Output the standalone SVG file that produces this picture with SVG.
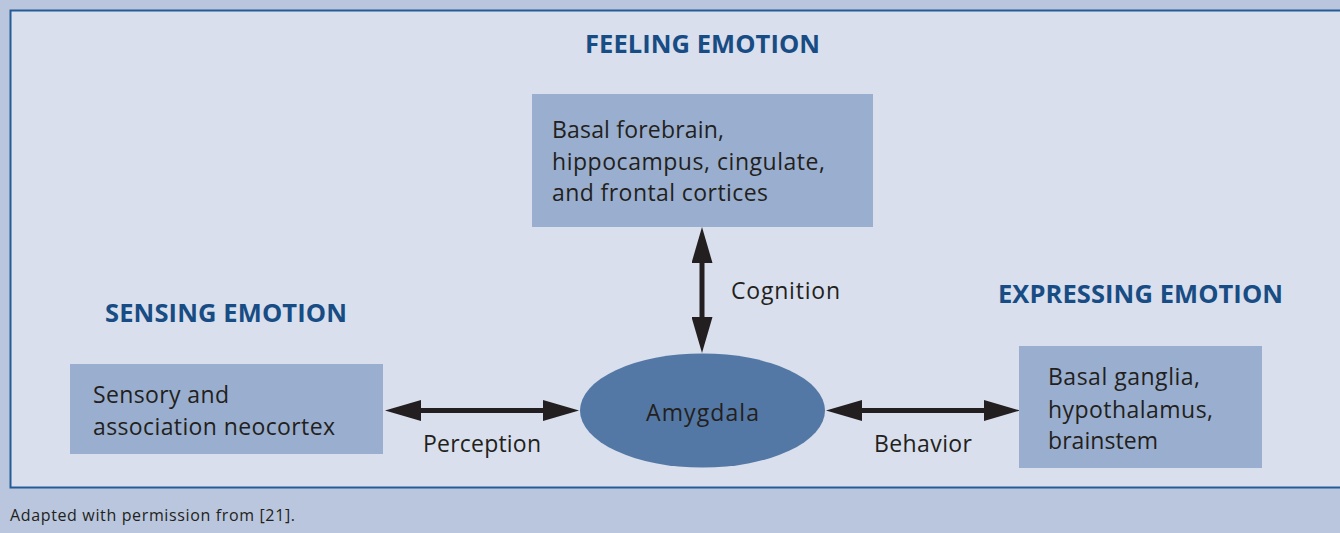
<svg xmlns="http://www.w3.org/2000/svg" width="1340" height="533" viewBox="0 0 1340 533">
<defs>
<style>
.title{font-family:"Open Sans","Liberation Sans",sans-serif;font-weight:bold;font-size:25.5px;fill:#184c84}
.body{font-family:"Open Sans","Liberation Sans",sans-serif;font-size:23px;fill:#231f20}
.box{fill:#9aafcf}
.conn{stroke:#231f20;stroke-width:5;fill:none;marker-start:url(#ah);marker-end:url(#ah)}
</style>
<marker id="ah" markerUnits="userSpaceOnUse" viewBox="0 0 36 21" refX="16" refY="10.5" markerWidth="36" markerHeight="21" orient="auto-start-reverse">
<path d="M0,0 L36,10.5 L0,21 Z" fill="#231f20"/>
</marker>
</defs>
<rect x="0" y="0" width="1340" height="533" fill="#b9c6dd"/>
<rect x="10.5" y="10.5" width="1345" height="477" fill="#d9dfec" stroke="#245c96" stroke-width="2"/>
<text x="10" y="521" font-family="'Open Sans','Liberation Sans',sans-serif" font-size="16" fill="#231f20" textLength="285">Adapted with permission from [21].</text>

<g id="connectors">
<line class="conn" x1="405" y1="410.5" x2="559" y2="410.5"/>
<line class="conn" x1="846" y1="410.5" x2="1000" y2="410.5"/>
<line class="conn" x1="702" y1="247" x2="702" y2="333"/>
<text class="body" x="423" y="452" textLength="118">Perception</text>
<text class="body" x="874" y="452" textLength="98">Behavior</text>
<text class="body" x="731" y="299" textLength="109">Cognition</text>
</g>

<g id="feeling">
<text class="title" x="585" y="52.5" textLength="235">FEELING EMOTION</text>
<rect class="box" x="532" y="94" width="341" height="133"/>
<text class="body" x="552" y="138" textLength="172">Basal forebrain,</text>
<text class="body" x="552" y="169.5" textLength="273">hippocampus, cingulate,</text>
<text class="body" x="552" y="200.5" textLength="216">and frontal cortices</text>
</g>

<g id="sensing">
<text class="title" x="105" y="321.5" textLength="242">SENSING EMOTION</text>
<rect class="box" x="70" y="364" width="313" height="90"/>
<text class="body" x="93" y="403" textLength="136">Sensory and</text>
<text class="body" x="93" y="435" textLength="242">association neocortex</text>
</g>

<g id="expressing">
<text class="title" x="998" y="302.5" textLength="285">EXPRESSING EMOTION</text>
<rect class="box" x="1019" y="346" width="243" height="122"/>
<text class="body" x="1048" y="385" textLength="152">Basal ganglia,</text>
<text class="body" x="1048" y="417.5" textLength="165">hypothalamus,</text>
<text class="body" x="1048" y="448.5" textLength="110">brainstem</text>
</g>

<g id="amygdala">
<ellipse cx="702.5" cy="410.5" rx="122.5" ry="57" fill="#5378a5"/>
<text class="body" x="646" y="421" font-size="24" textLength="113">Amygdala</text>
</g>
</svg>
